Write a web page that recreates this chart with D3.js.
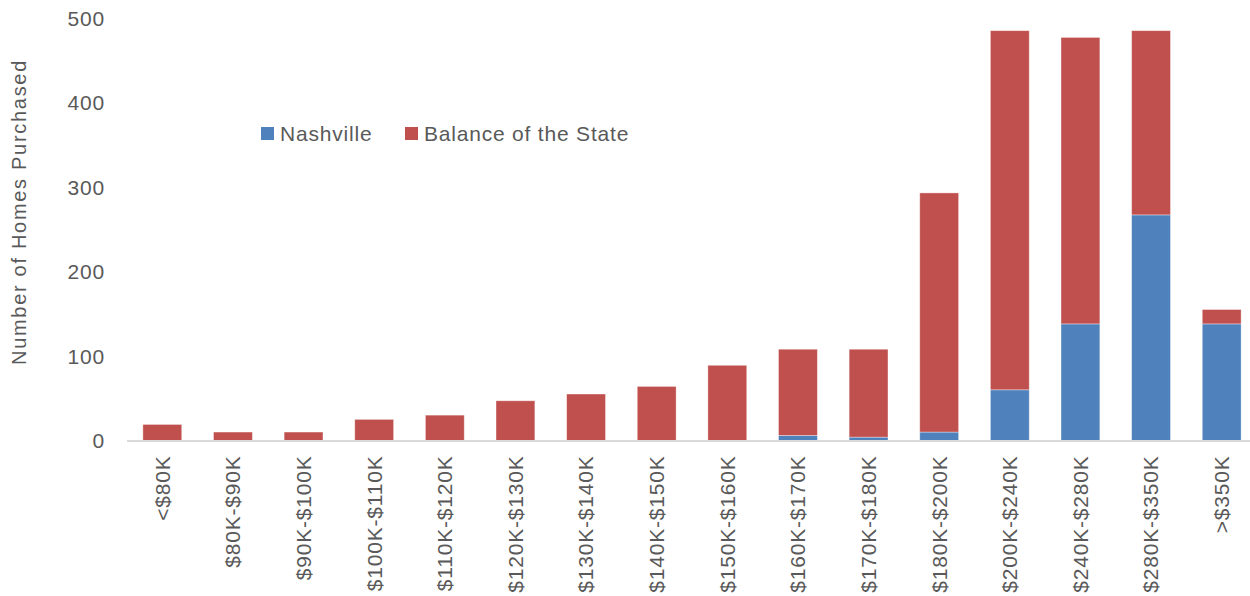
<!DOCTYPE html>
<html>
<head>
<meta charset="utf-8">
<script src="https://cdn.jsdelivr.net/npm/d3@7"></script>
<style>
  body { margin: 0; background: #fff; }
  svg text { font-family: "Liberation Sans", Arial, sans-serif; fill: #595959; letter-spacing: 0.8px; }
</style>
</head>
<body>
<svg id="chart" width="1250" height="596"></svg>
<script>
const categories = ["<$80K", "$80K-$90K", "$90K-$100K", "$100K-$110K", "$110K-$120K", "$120K-$130K",
  "$130K-$140K", "$140K-$150K", "$150K-$160K", "$160K-$170K", "$170K-$180K", "$180K-$200K",
  "$200K-$240K", "$240K-$280K", "$280K-$350K", ">$350K"];
const nashville = [0, 0, 0, 0, 0, 0, 0, 0, 0, 6, 4, 10, 60, 138, 267, 138];
const balance = [19, 10, 10, 25, 30, 47, 55, 64, 89, 102, 104, 283, 425, 339, 218, 17];
const seriesNames = ["Nashville", "Balance of the State"];
const yTicks = [0, 100, 200, 300, 400, 500];

const colors = ["#4f81bd", "#c0504d"];
const svg = d3.select("#chart");

const x = d3.scaleBand()
    .domain(categories)
    .range([127, 1257])
    .paddingInner(0.45)
    .paddingOuter(0.225);

const y = d3.scaleLinear()
    .domain([0, 500])
    .range([440.5, 18]);

// build rows for the stack
const rows = categories.map((c, i) => ({ cat: c, Nashville: nashville[i], "Balance of the State": balance[i] }));
const stacked = d3.stack().keys(seriesNames)(rows);

svg.append("g")
  .selectAll("g")
  .data(stacked)
  .join("g")
    .attr("fill", (d, i) => colors[i])
  .selectAll("rect")
  .data(d => d)
  .join("rect")
    .attr("x", d => x(d.data.cat))
    .attr("width", x.bandwidth())
    .attr("y", d => y(d[1]))
    .attr("height", d => Math.max(0, y(d[0]) - y(d[1])))
    .attr("stroke", "#ffffff")
    .attr("stroke-opacity", 0.45)
    .attr("stroke-width", 0.8);

// baseline
svg.append("line")
    .attr("x1", 127).attr("x2", 1250)
    .attr("y1", y(0) + 0.5).attr("y2", y(0) + 0.5)
    .attr("stroke", "#d9d9d9")
    .attr("stroke-width", 2);

// y axis labels
const yAxis = d3.axisLeft(y).tickValues(yTicks).tickSize(0).tickPadding(0);
svg.append("g")
    .attr("transform", "translate(105,0)")
    .call(yAxis)
    .call(g => g.select(".domain").remove())
    .call(g => g.selectAll("text")
        .style("font-size", "21px")
        .style("font-family", "'Liberation Sans', Arial, sans-serif")
        .attr("fill", "#595959")
        .attr("dy", "0.35em"));

// x axis labels, rotated
const xAxis = d3.axisBottom(x).tickSize(0).tickPadding(0);
svg.append("g")
    .attr("transform", `translate(0,${y(0)})`)
    .call(xAxis)
    .call(g => g.select(".domain").remove())
    .call(g => g.selectAll("text")
        .style("font-size", "21px")
        .style("font-family", "'Liberation Sans', Arial, sans-serif")
        .attr("fill", "#595959")
        .attr("text-anchor", "end")
        .attr("transform", "rotate(-90)")
        .attr("x", -15)
        .attr("y", 0)
        .attr("dy", "0.35em"));

// y axis title
svg.append("text")
    .attr("transform", "translate(19,212) rotate(-90)")
    .attr("text-anchor", "middle")
    .attr("dy", "0.35em")
    .style("font-size", "20px")
    .style("letter-spacing", "1.7px")
    .text("Number of Homes Purchased");

// legend
const legendX = [261, 405];
const legend = svg.append("g").selectAll("g")
  .data(seriesNames)
  .join("g")
    .attr("transform", (d, i) => `translate(${legendX[i]},134)`);
legend.append("rect")
    .attr("x", 0).attr("y", -7)
    .attr("width", 13).attr("height", 13)
    .attr("fill", (d, i) => colors[i]);
legend.append("text")
    .attr("x", 19)
    .attr("dy", "0.35em")
    .style("font-size", "21px")
    .text(d => d);
</script>
</body>
</html>
